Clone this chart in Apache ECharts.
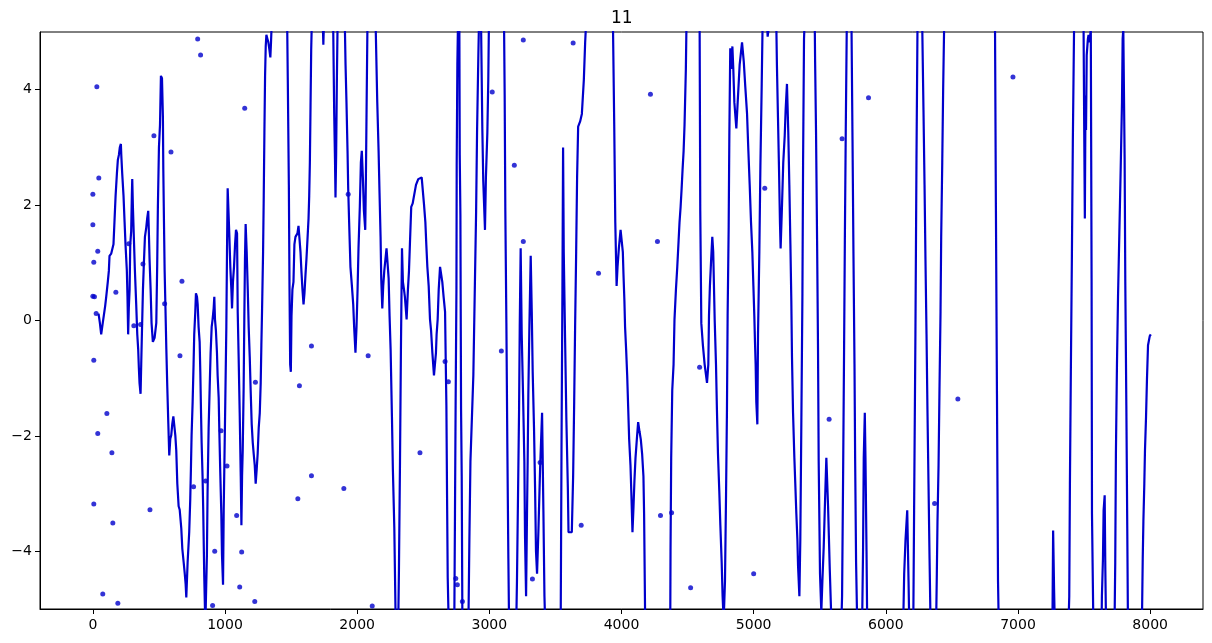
<!DOCTYPE html>
<html>
<head>
<meta charset="utf-8">
<script src="https://cdn.jsdelivr.net/npm/echarts@6/dist/echarts.min.js"></script>
<style>html,body{margin:0;padding:0;background:#fff}#c{width:1212px;height:643px}</style>
</head>
<body>
<div id="c"></div>
<script>
// traced line (x, y); values beyond ±5 are where the curve leaves the view
const lineX = [43,53,63,75,93,101,113,121,126,139,151,156,164,172,182,189,197,204,212,215,222,232,240,247,257,262,267,272,278,283,290,295,298,303,310,318,328,336,343,348,353,361,366,371,379,386,394,404,411,419,424,429,437,444,454,467,480,487,492,500,508,515,523,530,533,538,543,548,556,563,571,578,586,593,601,609,616,624,631,639,649,657,669,677,687,695,702,707,
717,729,737,742,747,755,762,767,775,780,788,793,800,808,813,818,823,830,835,843,851,858,863,868,876,884,891,899,906,914,919,924,931,939,944,952,957,964,972,977,985,990,995,1002,1010,1015,1020,1028,1033,1040,1048,1053,1060,1068,1076,1083,1091,1096,1103,1111,1119,1124,1129,1134,1141,1146,1151,1156,1164,1172,1179,1187,1194,1202,1210,1217,1225,1232,1240,1247,1255,1263,1270,1275,1280,1288,1293,1298,1303,1308,1313,1321,1328,1336,1343,1348,1354,1412,
1470,1475,1483,1488,1493,1498,1503,1510,1518,1525,1533,1540,1548,1556,1563,1571,1578,1586,1594,1601,1609,1616,1624,1632,1637,1642,1647,1652,1657,1700,1738,1744,1750,1785,
1818,1826,1832,1836,1841,1846,1852,1880,1906,1912,1919,1927,1932,1939,1949,1960,1970,1977,1987,1995,2003,2010,2020,2028,2035,2043,2051,2061,2066,2071,2078,2108,
2139,2152,2162,2169,2177,2182,2190,2197,2205,2212,2222,2230,2238,2245,2253,2263,2270,2281,2291,2300,2311,2316,2324,2331,2339,2346,2354,2361,2374,2384,2392,2399,2409,2420,2430,2445,2462,2488,2495,2505,2516,2523,2531,2541,2551,2559,2569,2581,2591,2596,2601,2609,2617,2627,2634,2644,2654,2665,2670,2675,2680,2685,2692,2714,
2735,2740,2745,2751,2753,2758,2763,2768,2773,2776,2781,2786,2791,2796,2818,2842,2849,2857,2879,2889,2900,2907,2917,2922,2930,
2937,2947,2954,2967,2974,2985,2992,2997,3055,3111,3116,3121,3129,3136,3144,3149,3177,3204,3209,3217,3225,3230,3237,3245,3255,3265,3270,3278,3285,3290,3295,3303,3313,3321,3328,3338,3346,3353,3361,3371,3384,3399,3409,3417,3422,3480,
3540,3546,3553,3558,3563,3573,3583,3594,3599,3624,3634,3642,3649,3657,3664,3672,3687,3700,3715,3725,3733,3830,3935,3945,3953,3963,3970,3980,3993,4003,4010,
4015,4022,4027,4035,4043,4050,4058,4068,4075,4083,4091,4098,4106,4116,4126,4136,4146,4156,4166,4171,4179,4275,4369,4371,4376,4384,4394,4401,4412,4422,4432,4439,4447,4455,4462,4470,4477,4487,4492,4545,
4591,4596,4604,4616,4629,4647,4657,4662,4669,4677,4687,4694,4705,4715,4722,4730,4740,4748,4758,4765,4773,4783,4791,4798,4803,4811,4816,4823,4831,4839,4846,4854,4869,4879,4894,4912,4925,4937,4950,4960,4970,4980,4990,4998,5005,5010,5015,5020,5028,5033,5043,5051,5061,5068,5085,5100,5106,5116,5121,5145,
5171,5176,5184,5192,5199,5204,5214,5224,5235,5242,5252,5262,5270,5278,5285,5290,5298,5308,5315,5323,5331,5336,5346,5353,5361,5369,5374,5381,5386,5424,
5462,5465,5472,5480,5487,5492,5502,5512,5520,5530,5538,5550,5563,5576,5588,5626,5664,5669,5677,5684,5690,5697,5705,5722,5740,5748,5755,5763,5768,5775,5783,5802,5821,5828,5833,5841,5846,5854,5859,5995,
6132,6139,6149,6162,6172,6177,6192,6208,6214,6224,6232,6240,6257,6275,6285,6293,6300,6308,6315,6323,6331,6338,6360,6381,6386,6391,6399,6406,6414,6419,6427,6434,6442,6634,
6826,6833,6841,6849,6854,7057,7261,7266,7273,7278,7330,7383,7388,7393,7400,7408,7415,7425,7460,7496,7501,7506,7511,7515,7520,7529,7534,7539,7547,7551,7557,7560,7570,7600,
7633,7635,7643,7648,7656,7661,7666,7698,7731,7736,7741,7749,7757,7767,7777,7787,7792,7797,7805,7807,7812,7820,7827,7832,7885,7938,7944,7949,7956,7961,7969,7976,7984,7997,8005];
const lineY = [0.12,-0.04,-0.24,-0.04,0.25,0.41,0.67,0.86,1.12,1.16,1.19,1.32,1.74,2.16,2.55,2.78,2.87,3.0,3.06,2.87,2.55,2.16,1.71,1.32,0.87,0.41,-0.24,0.22,0.54,1.32,1.55,2.16,2.45,1.97,1.45,0.87,0.28,-0.24,-0.5,-0.82,-1.08,-1.27,-0.75,-0.24,0.54,0.99,1.45,1.61,1.77,1.9,1.51,1.06,0.54,-0.04,-0.37,-0.3,-0.04,0.99,1.97,3.0,3.39,4.24,4.2,3.52,2.62,1.71,0.87,0.35,-0.5,-1.14,-1.79,-2.34,-2.05,-1.99,-1.79,-1.66,-1.69,-1.99,-2.25,-2.83,-3.22,-3.28,-3.6,-3.96,-4.19,-4.38,-4.57,-4.8,
-4.19,-3.67,-3.09,-2.57,-1.99,-1.41,-0.76,-0.24,0.15,0.47,0.41,0.28,-0.11,-0.37,-0.89,-1.54,-2.12,-2.7,-3.28,-4.45,-5.3,-5.3,-4.06,-2.96,-1.86,-1.15,-0.56,-0.11,0.02,0.21,0.41,0.02,-0.17,-0.56,-0.95,-1.34,-1.92,-2.63,-3.35,-4.06,-4.58,-3.29,-2.51,-1.41,-0.11,1.19,2.29,2.29,1.45,0.93,0.54,0.21,0.67,0.93,1.32,1.57,1.51,0.15,-0.63,-1.6,-2.7,-3.55,-2.7,-2.25,-1.15,0.02,1.06,1.67,1.19,0.54,-0.11,-0.63,-1.21,-1.8,-2.12,-2.31,-2.51,-2.83,-2.57,-2.31,-1.86,-1.6,-1.08,-0.43,0.15,1.19,2.16,3.26,4.23,4.75,4.95,4.88,4.82,4.69,4.56,4.82,5.2,8,
5.2,4.17,2.35,0.54,-0.76,-0.89,0.08,0.54,0.67,1.32,1.45,1.45,1.51,1.64,1.67,1.19,0.86,0.54,0.28,0.47,0.8,1.06,1.41,1.77,2.16,2.74,3.71,4.69,5.2,8,5.3,4.78,5.3,8,
5.2,3.6,2.8,2.13,2.9,4.1,5.2,8,5.2,4.43,3.78,2.94,2.29,1.71,0.93,0.6,0.28,-0.11,-0.56,-0.11,0.54,1.25,1.97,2.74,2.94,2.48,1.9,1.57,2.48,3.65,5.2,8,
5.2,3.78,2.94,2.22,1.45,0.73,0.21,0.6,0.86,0.86,1.25,1.25,0.73,0.08,-0.5,-1.67,-2.57,-3.6,-5.2,-7,-5.2,-4.32,-2.44,-0.5,1.25,0.67,0.54,0.41,0.02,0.54,0.86,1.32,1.97,2.03,2.16,2.35,2.45,2.48,2.48,2.03,1.7,1.32,0.93,0.6,0.02,-0.17,-0.56,-0.95,-0.95,-0.56,-0.24,0.02,0.54,0.93,0.93,0.67,0.41,0.15,-0.69,-1.47,-3.03,-4.45,-5.2,-7,
-5.2,-3.35,-1.41,0.54,2.68,4.43,5.2,7,5.2,2.87,1.83,-1.54,-2.7,-5.2,-7,-5.2,-3.8,-2.44,-0.95,0.41,1.9,3.26,4.62,5.2,7,
5.2,3.32,2.42,1.57,2.48,3.26,4.17,5.2,8,5.2,3.91,1.9,-0.05,-2.12,-4.13,-5.2,-7,-5.2,-4.52,-3.03,-1.54,-0.11,1.25,-0.24,-1.28,-2.44,-3.74,-4.78,-3.35,-2.44,-1.28,-0.11,1.12,0.15,-0.89,-1.86,-2.9,-4.0,-4.39,-3.67,-2.57,-1.6,-3.29,-4.78,-5.2,-7,
-5.2,-2.25,0.54,3.0,1.19,-0.3,-1.73,-2.9,-3.67,-3.67,-2.7,-1.41,-0.11,1.19,2.48,3.36,3.45,3.58,4.17,4.82,5.2,8,5.2,3.39,1.7,0.6,0.93,1.25,1.57,1.57,1.19,
0.8,0.34,-0.11,-0.5,-0.95,-1.47,-2.06,-2.51,-3.03,-3.67,-3.22,-2.77,-2.38,-2.06,-1.76,-1.92,-2.06,-2.31,-2.7,-3.35,-5.2,-7,-5.2,-4.0,-2.38,-1.21,-0.76,0.02,0.54,0.93,1.38,1.7,1.96,2.29,2.61,2.94,3.39,4.36,5.2,8,
5.2,1.9,-0.05,-0.43,-0.76,-1.08,-0.76,0.08,0.6,0.99,1.45,1.19,0.02,-0.76,-1.54,-2.31,-2.96,-3.55,-4.19,-4.78,-5.2,-4.52,-3.03,-1.54,0.08,1.63,3.2,4.72,4.36,4.75,4.36,3.78,3.33,3.78,4.43,4.82,4.49,4.04,3.58,2.94,2.35,1.7,1.19,0.6,0.08,-0.37,-0.76,-1.41,-1.8,-0.24,1.19,2.68,4.1,5.2,6,5.2,4.92,4.92,5.2,7,
5.2,4.43,3.52,2.61,1.7,1.25,1.96,2.74,3.2,3.65,4.1,3.26,2.35,1.32,0.34,-0.63,-1.6,-2.38,-2.83,-3.35,-3.8,-4.26,-4.78,-3.8,-1.73,0.47,2.74,4.88,5.2,8,
5.2,4.49,3.26,1.38,-0.5,-2.44,-4.39,-5.05,-4.52,-3.93,-3.29,-2.38,-3.22,-4.32,-5.2,-7,-5.2,-4.78,-2.64,-0.56,1.38,3.32,5.2,7,5.2,3.13,1.19,-0.76,-2.44,-4.19,-5.2,-7,-5.2,-3.93,-2.38,-1.6,-2.38,-4.0,-5.2,-8,
-5.2,-4.39,-3.8,-3.29,-4.52,-5.2,-7,-5.2,-3.3,-0.24,2.8,5.2,7,5.2,3.65,2.35,1.06,-0.24,-1.54,-2.83,-4.13,-5.2,-7,-5.2,-4.39,-3.48,-2.51,-1.21,0.15,1.45,2.74,4.04,5.2,8,
5.2,1.96,-1.28,-4.52,-5.2,-8,-5.2,-3.64,-4.64,-5.2,-7,-5.2,-4.78,-2.83,-0.89,1.12,3.07,5.2,8,5.2,3.39,1.77,3.9,3.3,4.6,4.88,4.95,4.82,4.95,5.05,0.73,-3.35,-5.2,-7,
-5.2,-4.78,-4.13,-3.29,-3.03,-4.32,-5.2,-7,-5.2,-4.19,-2.31,-0.76,0.41,1.51,2.61,3.78,4.88,5.05,5.05,2.81,0.67,-1.47,-3.61,-5.2,-7,-5.2,-4.13,-3.48,-2.83,-2.25,-1.67,-1.02,-0.43,-0.27,-0.24];

// scattered points
const dotX = [30,45,0,0,37,7,0,12,25,174,7,106,37,144,7,151,75,189,462,591,674,659,432,310,361,272,379,543,
793,815,1149,1230,762,970,1015,922,1088,1126,1111,906,1225,853,1654,1563,1654,1551,
1932,2083,1899,2475,2114,2665,2690,2746,2758,2796,
3257,3634,3022,3189,3257,3091,3826,3695,3326,3384,
4219,4272,4591,4295,4379,4523,5000,5084,5869,5669,5571,6962,6545,6369];
const dotY = [4.05,2.47,2.19,1.66,1.2,1.01,0.42,0.41,0.12,0.49,-0.69,-1.61,-1.96,-2.29,-3.18,-3.51,-4.74,-4.9,3.2,2.92,0.68,-0.61,-3.28,-0.09,-0.07,1.33,0.98,0.29,
4.88,4.6,3.68,-1.07,-2.88,-1.91,-2.52,-4.0,-3.38,-4.01,-4.62,-4.94,-4.87,-2.78,-0.44,-1.13,-2.69,-3.09,
2.19,-0.61,-2.91,-2.29,-4.95,-0.71,-1.06,-4.47,-4.58,-4.87,
4.86,4.81,3.96,2.69,1.37,-0.53,0.82,-3.55,-4.48,-2.46,
3.92,1.37,-0.81,-3.38,-3.33,-4.63,-4.39,2.29,3.86,3.15,-1.71,4.22,-1.36,-3.17];

const xTicks = [0,1000,2000,3000,4000,5000,6000,7000,8000];
const yTicks = [-4,-2,0,2,4];

const chart = echarts.init(document.getElementById('c'), null, {renderer:'canvas'});
const font = 'DejaVu Sans';
const minus = v => String(v).replace('-', '\u2212');
chart.setOption({
  animation: false,
  backgroundColor: '#fff',
  title: {text: '11', left: 611, top: 10, padding: 0,
    textStyle: {fontFamily: font, fontSize: 17, fontWeight: 'normal', color: '#000'}},
  grid: {left: 40, right: 9, top: 32, bottom: 34, show: true, borderColor: '#000', borderWidth: 1, containLabel: false},
  xAxis: {type: 'value', min: -400, max: 8400,
    axisLine: {show: true, onZero: false, lineStyle: {color: '#000', width: 1}},
    splitLine: {show: false},
    axisTick: {show: true, length: 5, lineStyle: {color: '#000'}, customValues: xTicks},
    axisLabel: {customValues: xTicks, margin: 9, fontFamily: font, fontSize: 14, color: '#000', formatter: minus}},
  yAxis: {type: 'value', min: -5, max: 5,
    axisLine: {show: true, onZero: false, lineStyle: {color: '#000', width: 1}},
    splitLine: {show: false},
    axisTick: {show: true, length: 5, lineStyle: {color: '#000'}, customValues: yTicks},
    axisLabel: {customValues: yTicks, margin: 8, fontFamily: font, fontSize: 14, color: '#000', formatter: minus}},
  series: [
    {type: 'line', data: lineX.map((x, i) => [x, lineY[i]]), showSymbol: false, symbol: 'none',
      clip: true, lineStyle: {color: '#0000cc', width: 2.2}, z: 2},
    {type: 'scatter', data: dotX.map((x, i) => [x, dotY[i]]), symbol: 'circle', symbolSize: 5,
      clip: true, itemStyle: {color: '#0000cc'}, z: 3}
  ]
});
</script>
</body>
</html>
